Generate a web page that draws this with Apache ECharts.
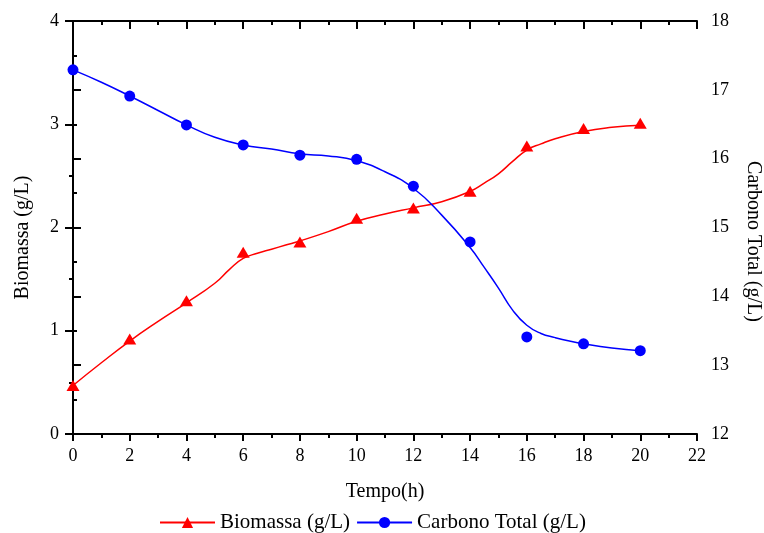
<!DOCTYPE html>
<html>
<head>
<meta charset="utf-8">
<script src="https://cdn.jsdelivr.net/npm/echarts@6/dist/echarts.min.js"></script>
<style>
html,body{margin:0;padding:0;background:#fff;}
#chart{width:764px;height:533px;}
</style>
</head>
<body>
<div id="chart"></div>
<script>
// Measured data
var tempo = [0, 2, 4, 6, 8, 10, 12, 14, 16, 18, 20];
var biomassa = [0.47, 0.92, 1.29, 1.76, 1.86, 2.09, 2.19, 2.35, 2.79, 2.96, 3.01];
var carbono = [17.29, 16.91, 16.49, 16.20, 16.05, 15.99, 15.60, 14.79, 13.41, 13.31, 13.21];
// Fitted curves
var biomassaFitX = [0, 1, 2, 3, 4, 5, 5.5, 6, 6.5, 7, 7.5, 8, 9, 10, 11, 12, 13, 14, 14.5, 15, 15.5, 16, 16.5, 17, 18, 19, 20];
var biomassaFit = [0.47, 0.69, 0.90, 1.09, 1.27, 1.46, 1.59, 1.70, 1.75, 1.79, 1.83, 1.87, 1.96, 2.06, 2.13, 2.19, 2.25, 2.35, 2.43, 2.52, 2.64, 2.75, 2.81, 2.86, 2.93, 2.97, 2.99];
var carbonoFitX = [0, 1, 2, 3, 4, 5, 6, 7, 8, 9, 10, 11, 12, 13, 14, 14.5, 15, 15.5, 16, 16.5, 17, 17.5, 18, 19, 20];
var carbonoFit = [17.29, 17.11, 16.91, 16.70, 16.49, 16.31, 16.20, 16.14, 16.07, 16.04, 15.97, 15.81, 15.57, 15.18, 14.71, 14.42, 14.12, 13.80, 13.58, 13.46, 13.40, 13.35, 13.31, 13.25, 13.21];
// Axis ticks
var xTicks = {min: 0, max: 22, interval: 2};
var yLeftTicks = {min: 0, max: 4, interval: 1};
var yRightTicks = {min: 12, max: 18, interval: 1};

var nameB = 'Biomassa (g/L)';
var nameC = 'Carbono Total (g/L)';
var FONT = 'Liberation Serif';

function pairs(xs, ys){ return xs.map(function(x,i){ return [x, ys[i]]; }); }

var axisLine = {show: true, lineStyle: {color: '#000', width: 2}};
var chart = echarts.init(document.getElementById('chart'));
chart.setOption({
  animation: false,
  backgroundColor: '#fff',
  grid: {left: 73, right: 67, top: 21, bottom: 99, containLabel: false, outerBoundsMode: 'none'},
  legend: {
    top: 507, left: 154,
    data: [nameB, nameC],
    itemWidth: 55, itemHeight: 14, itemGap: 6,
    textStyle: {fontFamily: FONT, fontSize: 21, color: '#000'}
  },
  xAxis: [{
    type: 'value', position: 'bottom',
    min: xTicks.min, max: xTicks.max, interval: xTicks.interval,
    name: 'Tempo(h)', nameLocation: 'middle', nameGap: 48,
    nameTextStyle: {fontFamily: FONT, fontSize: 20, color: '#000'},
    axisLine: axisLine,
    axisTick: {show: true, inside: false, length: 7, lineStyle: {color: '#000', width: 2}},
    minorTick: {show: true, splitNumber: 2, length: 4, lineStyle: {color: '#000', width: 2}},
    axisLabel: {fontFamily: FONT, fontSize: 18, color: '#000', margin: 13},
    splitLine: {show: false}
  }, {
    type: 'value', position: 'top',
    min: xTicks.min, max: xTicks.max, interval: xTicks.interval,
    axisLine: axisLine,
    axisTick: {show: true, inside: true, length: 8, lineStyle: {color: '#000', width: 2}},
    minorTick: {show: true, splitNumber: 2, length: 4, lineStyle: {color: '#000', width: 2}},
    axisLabel: {show: false},
    splitLine: {show: false}
  }],
  yAxis: [{
    type: 'value', position: 'left',
    min: yLeftTicks.min, max: yLeftTicks.max, interval: yLeftTicks.interval,
    name: nameB, nameLocation: 'middle', nameGap: 40,
    nameTextStyle: {fontFamily: FONT, fontSize: 20, color: '#000', padding: [0, 20, 0, 0]},
    axisLine: axisLine,
    axisTick: {show: true, inside: false, length: 8, lineStyle: {color: '#000', width: 2}},
    minorTick: {show: true, splitNumber: 2, length: 4, lineStyle: {color: '#000', width: 2}},
    axisLabel: {fontFamily: FONT, fontSize: 18, color: '#000', margin: 14},
    splitLine: {show: false}
  }, {
    type: 'value', position: 'right',
    min: yRightTicks.min, max: yRightTicks.max, interval: yRightTicks.interval,
    name: nameC, nameLocation: 'middle', nameGap: 46, nameRotate: -90,
    nameTextStyle: {fontFamily: FONT, fontSize: 20, color: '#000', padding: [0, 0, 0, 28]},
    axisLine: axisLine,
    axisTick: {show: true, inside: false, length: 8, lineStyle: {color: '#000', width: 2}},
    minorTick: {show: true, splitNumber: 2, length: 4, lineStyle: {color: '#000', width: 2}},
    axisLabel: {fontFamily: FONT, fontSize: 18, color: '#000', margin: 14},
    splitLine: {show: false}
  }],
  series: [{
    name: nameB, type: 'line', xAxisIndex: 0, yAxisIndex: 0,
    data: pairs(biomassaFitX, biomassaFit), smooth: 0.5,
    showSymbol: false, symbol: 'triangle', symbolSize: 12,
    itemStyle: {color: '#ff0000', opacity: 1}, lineStyle: {color: '#ff0000', width: 1.5}
  }, {
    name: nameB, type: 'scatter', xAxisIndex: 0, yAxisIndex: 0,
    data: pairs(tempo, biomassa), symbol: 'triangle', symbolSize: [13, 11],
    itemStyle: {color: '#ff0000', opacity: 1}
  }, {
    name: nameC, type: 'line', xAxisIndex: 0, yAxisIndex: 1,
    data: pairs(carbonoFitX, carbonoFit), smooth: 0.5,
    showSymbol: false, symbol: 'circle', symbolSize: 11,
    itemStyle: {color: '#0000ff', opacity: 1}, lineStyle: {color: '#0000ff', width: 1.5}
  }, {
    name: nameC, type: 'scatter', xAxisIndex: 0, yAxisIndex: 1,
    data: pairs(tempo, carbono), symbol: 'circle', symbolSize: 11,
    itemStyle: {color: '#0000ff', opacity: 1}
  }]
});
</script>
</body>
</html>
